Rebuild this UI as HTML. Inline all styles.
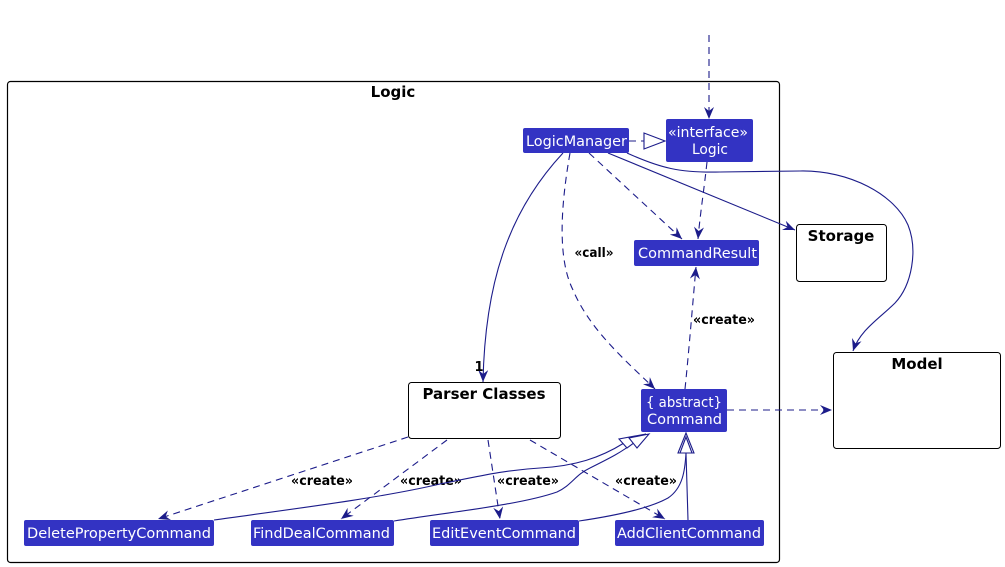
<!DOCTYPE html>
<html><head><meta charset="utf-8"><style>
html,body{margin:0;padding:0;background:#fff;}
svg{display:block;}
text{font-family:"DejaVu Sans","Liberation Sans",sans-serif;}
.bx{fill:#3333c3;}
.bt{fill:#fff;font-size:14px;text-anchor:middle;}
.lbl{font-size:13px;font-weight:bold;fill:#000;text-anchor:middle;}
.ttl{font-size:15px;font-weight:bold;fill:#000;text-anchor:middle;}
.ln{fill:none;stroke:#1c1c8a;stroke-width:1.1;}
.ds{stroke-dasharray:7,5;}
</style></head><body>
<svg width="1005" height="567" viewBox="0 0 1005 567" xmlns="http://www.w3.org/2000/svg">
<defs>
<marker id="a" viewBox="0 0 12 10" refX="12" refY="5" markerWidth="12" markerHeight="10" markerUnits="userSpaceOnUse" orient="auto">
<path d="M0,0 L12,5 L0,10 L4,5 Z" fill="#1c1c8a"/>
</marker>
</defs>

<!-- Logic package -->
<rect x="7.5" y="81.5" width="772" height="481" rx="3" fill="none" stroke="#000" stroke-width="1.2"/>
<text class="ttl" x="393" y="97">Logic</text>

<!-- Storage / Model -->
<rect x="796.5" y="224.5" width="90" height="57" rx="3" fill="#fff" stroke="#000" stroke-width="1"/>
<text class="ttl" x="841" y="241">Storage</text>
<rect x="833.5" y="352.5" width="167" height="96" rx="3" fill="#fff" stroke="#000" stroke-width="1"/>
<text class="ttl" x="917" y="369">Model</text>

<!-- Parser Classes -->
<rect x="408.5" y="382.5" width="152" height="56" rx="3" fill="#fff" stroke="#000" stroke-width="1"/>
<text class="ttl" x="484" y="399">Parser Classes</text>

<!-- edges -->
<path class="ln ds" d="M709,35 L709,119" marker-end="url(#a)"/>
<path class="ln ds" d="M629,141 L644,141"/>
<polygon points="644,133 644,149 665,141" fill="#fff" stroke="#1c1c8a" stroke-width="1.1"/>
<path class="ln" d="M563,153 C510,210 485,280 483,382" marker-end="url(#a)"/>
<text class="lbl" x="479" y="371">1</text>
<path class="ln ds" d="M570,153 C560,210 558,260 573,290 C590,330 625,360 655,389" marker-end="url(#a)"/>
<text class="lbl" x="594" y="257" textLength="39" lengthAdjust="spacingAndGlyphs">«call»</text>
<path class="ln ds" d="M589,153 L682,239" marker-end="url(#a)"/>
<path class="ln ds" d="M707,162 C704,190 700,215 698,239" marker-end="url(#a)"/>
<path class="ln" d="M608,153 L795,230" marker-end="url(#a)"/>
<path class="ln" d="M627,153 C660,168 680,173 720,172 L800,171 C850,170 895,195 908,225 C918,250 912,285 895,303 C880,318 860,330 853,351" marker-end="url(#a)"/>
<path class="ln ds" d="M685,389 C689,350 693,300 696,267" marker-end="url(#a)"/>
<text class="lbl" x="724" y="324" textLength="62" lengthAdjust="spacingAndGlyphs">«create»</text>
<path class="ln ds" d="M727,410 L832,410" marker-end="url(#a)"/>

<path class="ln ds" d="M408,437 L158,519" marker-end="url(#a)"/>
<text class="lbl" x="322" y="485" textLength="62" lengthAdjust="spacingAndGlyphs">«create»</text>
<path class="ln ds" d="M447,440 L341,519" marker-end="url(#a)"/>
<text class="lbl" x="431" y="485" textLength="62" lengthAdjust="spacingAndGlyphs">«create»</text>
<path class="ln ds" d="M488,440 L500,519" marker-end="url(#a)"/>
<text class="lbl" x="528" y="485" textLength="62" lengthAdjust="spacingAndGlyphs">«create»</text>
<path class="ln ds" d="M530,440 L665,519" marker-end="url(#a)"/>
<text class="lbl" x="646" y="485" textLength="62" lengthAdjust="spacingAndGlyphs">«create»</text>

<!-- generalizations -->
<path class="ln" d="M214,520 C300,508 380,498 440,484 C480,476 505,470 540,468 C575,466 600,458 624,443"/>
<path class="ln" d="M394,521 C450,512 520,505 557,492 C572,485 575,475 590,468 C610,458 622,452 633,443"/>
<path class="ln" d="M579,521 C620,515 650,508 668,498 C683,488 685,470 686,453"/>
<path class="ln" d="M688,520 L686,453"/>
<polygon points="646,434 619,439 627,448" fill="#fff" stroke="#1c1c8a" stroke-width="1.1"/>
<polygon points="649,434 629,438 637,448" fill="#fff" stroke="#1c1c8a" stroke-width="1.1"/>
<polygon points="686,433 678,453 694,453" fill="#fff" stroke="#1c1c8a" stroke-width="1.1"/>
<polygon points="686,437 680,453 692,453" fill="#fff" stroke="#1c1c8a" stroke-width="1.1"/>

<!-- class boxes -->
<rect class="bx" x="523" y="128" width="106" height="25" rx="2"/>
<text class="bt" x="576.5" y="146" textLength="101" lengthAdjust="spacingAndGlyphs">LogicManager</text>

<rect class="bx" x="666" y="119" width="87" height="43" rx="2"/>
<text class="bt" x="708" y="137" textLength="80" lengthAdjust="spacingAndGlyphs">«interface»</text>
<text class="bt" x="710" y="154" textLength="36" lengthAdjust="spacingAndGlyphs">Logic</text>

<rect class="bx" x="634" y="240" width="125" height="26" rx="2"/>
<text class="bt" x="697.5" y="258" textLength="119" lengthAdjust="spacingAndGlyphs">CommandResult</text>

<rect class="bx" x="641" y="389" width="86" height="43" rx="2"/>
<text class="bt" x="684" y="407" textLength="76" lengthAdjust="spacingAndGlyphs">{ abstract}</text>
<text class="bt" x="684.5" y="424" textLength="75" lengthAdjust="spacingAndGlyphs">Command</text>

<rect class="bx" x="24" y="520" width="190" height="26" rx="2"/>
<text class="bt" x="119" y="538" textLength="184" lengthAdjust="spacingAndGlyphs">DeletePropertyCommand</text>
<rect class="bx" x="251" y="520" width="143" height="26" rx="2"/>
<text class="bt" x="321.5" y="538" textLength="137" lengthAdjust="spacingAndGlyphs">FindDealCommand</text>
<rect class="bx" x="430" y="520" width="149" height="26" rx="2"/>
<text class="bt" x="504" y="538" textLength="144" lengthAdjust="spacingAndGlyphs">EditEventCommand</text>
<rect class="bx" x="615" y="520" width="149" height="26" rx="2"/>
<text class="bt" x="689" y="538" textLength="144" lengthAdjust="spacingAndGlyphs">AddClientCommand</text>
</svg>
</body></html>
